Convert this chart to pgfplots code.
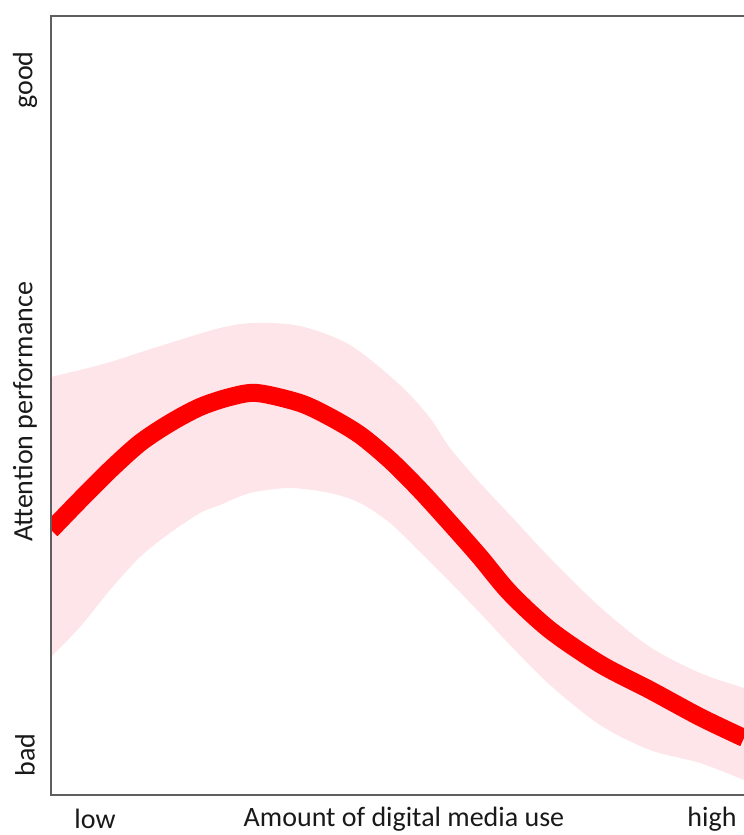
\documentclass[border=0pt]{standalone}
\usepackage{fontspec}
\setmainfont{Carlito}
\usepackage{pgfplots}
\pgfplotsset{compat=1.18}
\usepgfplotslibrary{fillbetween}
\definecolor{band}{RGB}{254,229,233}
\definecolor{frame}{RGB}{95,95,95}
\definecolor{txt}{RGB}{25,25,25}
\begin{document}
\begin{tikzpicture}[x=1pt,y=1pt]
\begin{axis}[at={(51pt,40pt)},anchor=south west,
  scale only axis, width=693pt, height=779pt,
  xmin=51, xmax=744, ymin=0, ymax=779,
  hide axis, clip=true]
\addplot[name path=U, draw=none, smooth] coordinates {
(51,418) (107,432) (157,448) (220,467) (255,472) (300,469) (350,450) (400,410) (430,377) (450,347) (480,312) (510,280) (550,237) (600,188) (650,148) (700,122) (744,107)};
\addplot[name path=L, draw=none, smooth] coordinates {
(51,138) (80,168) (110,205) (140,238) (170,262) (200,282) (220,290) (250,302) (290,307) (330,302) (360,292) (390,272) (420,243) (450,213) (480,182) (510,150) (550,110) (600,70) (650,45) (700,32) (744,15)};
\addplot[band, draw=none] fill between[of=U and L];
\addplot[red, line width=18pt, smooth] coordinates {
(51,265) (80,295) (110,325) (140,352) (170,372) (200,388) (230,398) (257,402) (300,392) (330,378) (360,360) (390,335) (420,305) (450,272) (480,238) (510,202) (550,165) (600,131) (650,105) (700,78) (744,57)};
\end{axis}
\draw[frame, line width=2pt] (744,819) -- (51,819) -- (51,40) -- (744,40);
\node[txt, rotate=90, font=\fontsize{28}{32}\selectfont] at (25,755) {good};
\node[txt, rotate=90, font=\fontsize{28}{32}\selectfont] at (25,423) {Attention performance};
\node[txt, rotate=90, font=\fontsize{28}{32}\selectfont] at (25,80) {bad};
\node[txt, font=\fontsize{28}{32}\selectfont, inner sep=0pt] at (95,16) {low};
\node[txt, font=\fontsize{28}{32}\selectfont, inner sep=0pt] at (404,16) {Amount of digital media use};
\node[txt, font=\fontsize{28}{32}\selectfont, inner sep=0pt] at (712,16) {high};
\pgfresetboundingbox
\path[use as bounding box] (0,0) rectangle (744,835);
\end{tikzpicture}
\end{document}
